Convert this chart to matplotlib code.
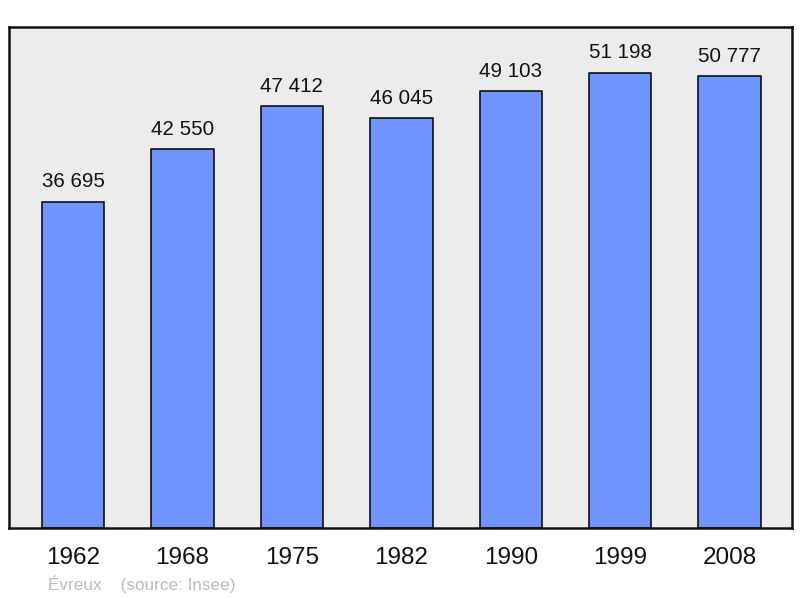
import matplotlib
matplotlib.use("Agg")
import matplotlib.pyplot as plt

matplotlib.rcParams.update({
    "font.family": ["Liberation Sans", "DejaVu Sans"],
})

years = ["1962", "1968", "1975", "1982", "1990", "1999", "2008"]
population = [36695, 42550, 47412, 46045, 49103, 51198, 50777]
value_labels = ["36 695", "42 550", "47 412", "46 045", "49 103", "51 198", "50 777"]
caption = "Évreux    (source: Insee)"

fig = plt.figure(figsize=(8.0, 5.98), dpi=100)
ax = fig.add_axes([9 / 800, 70 / 598, 783 / 800, 501 / 598])
ax.set_facecolor("#ECECEC")

x = list(range(len(years)))
bars = ax.bar(x, population, width=0.57, color="#7094FF", edgecolor="#111111",
              linewidth=1.2, zorder=2)
for b in bars:
    b.set_joinstyle("round")

for xi, v, lab in zip(x, population, value_labels):
    ax.annotate(lab, xy=(xi, v), xytext=(0, 7.5), textcoords="offset points",
                ha="center", va="bottom", fontsize=14.8, color="#111111")

ax.set_xlim(-0.585, 6.57)
ax.set_ylim(0, max(population) * 1.1)
ax.set_xticks(x)
ax.set_xticklabels(years, fontsize=17.5, color="#111111")
ax.tick_params(axis="x", length=0, pad=14)
ax.set_yticks([])
for s in ax.spines.values():
    s.set_linewidth(1.8)
    s.set_color("#111111")

fig.text(48 / 800, 1 - 584 / 598, caption, fontsize=12.3, color="#BBBBBB",
         ha="left", va="center")

fig.savefig("out.png", dpi=100)
